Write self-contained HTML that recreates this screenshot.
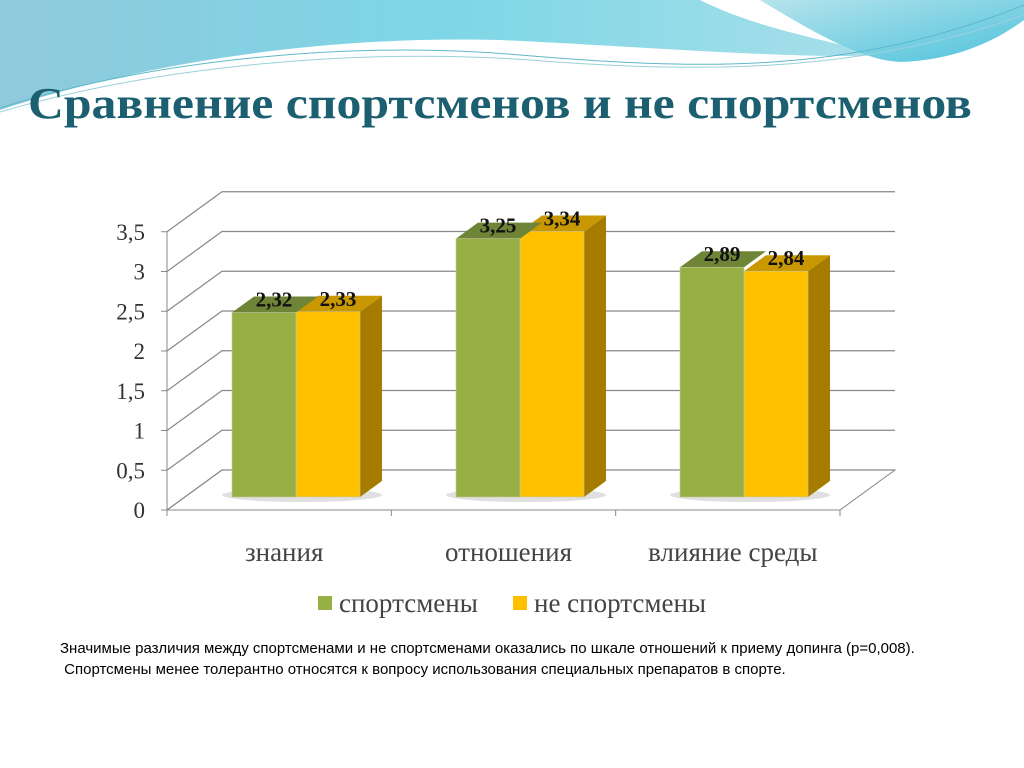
<!DOCTYPE html>
<html><head><meta charset="utf-8"><style>
html,body{margin:0;padding:0;background:#fff;}
#root{position:relative;width:1024px;height:768px;overflow:hidden;font-family:"Liberation Sans",sans-serif;}
</style></head><body>
<div id="root">
<svg width="1024" height="768" style="position:absolute;left:0;top:0">
<defs>
<linearGradient id="g1" x1="0" y1="0" x2="1" y2="0"><stop offset="0" stop-color="#8fc9dc"/><stop offset="0.5" stop-color="#7dd6e6"/><stop offset="1" stop-color="#a8dfea"/></linearGradient>
<linearGradient id="g2" x1="0" y1="0" x2="1" y2="1"><stop offset="0" stop-color="#b6e4ec"/><stop offset="1" stop-color="#4fc2dc"/></linearGradient>
</defs>
<path d="M0,0 L700,0 C760,30 830,40 880,55 C800,60 620,45 500,40 C300,35 120,70 0,110 Z" fill="url(#g1)"/>
<path d="M760,0 L1024,0 L1024,20 C990,45 950,60 900,62 C860,60 810,30 760,0 Z" fill="url(#g2)"/>
<path d="M0,108 C150,60 350,40 520,55 C700,70 850,75 1024,5" fill="none" stroke="#5fb8c8" stroke-width="1"/>
<path d="M0,112 C160,65 360,48 530,60 C720,75 870,70 1024,15" fill="none" stroke="#9ad0dc" stroke-width="1"/>
</svg>
<div style="position:absolute;left:28px;top:78px;font-family:'Liberation Serif',serif;font-weight:bold;font-size:44px;color:#1c5f70;white-space:nowrap;transform:scaleX(1.13);transform-origin:0 0;">Сравнение спортсменов и не спортсменов</div>
<svg id="chart" width="1024" height="768" style="position:absolute;left:0;top:0"></svg>
<div style="position:absolute;left:60px;top:639px;font-size:15px;color:#000;line-height:20.5px;width:920px;">Значимые различия между спортсменами и не спортсменами оказались по шкале отношений к приему допинга (р=0,008).<br>&nbsp;Спортсмены менее толерантно относятся к вопросу использования специальных препаратов в спорте.</div>
</div>
<script>
const categories=["знания","отношения","влияние среды"];
const athletes=[2.32,3.25,2.89];
const nonAthletes=[2.33,3.34,2.84];
const ticks=[0,0.5,1,1.5,2,2.5,3,3.5];
const tickLabels=["0","0,5","1","1,5","2","2,5","3","3,5"];
const seriesNames=["спортсмены","не спортсмены"];
const NS="http://www.w3.org/2000/svg";
const svg=document.getElementById('chart');
const k=79.5, y0=510, fx0=167, fx1=840, dx=55, dy=-40;
function yF(v){return y0-v*k;}
function yB(v){return 497-v*k;}
function catX(i){return 232+i*224;}
function mk(t,a){const e=document.createElementNS(NS,t);for(const p in a)e.setAttribute(p,a[p]);svg.appendChild(e);return e;}
let fl=mk('polygon',{points:`${fx0},${y0} ${fx1},${y0} ${fx1+dx},${y0+dy} ${fx0+dx},${y0+dy}`,fill:'none',stroke:'#888'});


ticks.forEach((t,i)=>{
  const g=mk('polyline',{points:`${fx0},${yF(t)} ${fx0+dx},${yF(t)+dy} ${fx1+dx},${yF(t)+dy}`,fill:'none',stroke:'#888','stroke-width':1.2});
  
  
  const tk=mk('line',{x1:fx0-6,y1:yF(t),x2:fx0,y2:yF(t),stroke:'#888'});
  
  
  const l=mk('text',{x:145,y:yF(t)+8,'text-anchor':'end','font-family':'Liberation Serif, serif','font-size':23,fill:'#333'});
  l.textContent=tickLabels[i];
  
  
});
const ax=mk('line',{x1:fx0,y1:yF(3.5),x2:fx0,y2:y0,stroke:'#888'});


const xa=mk('line',{x1:fx0,y1:y0,x2:fx1,y2:y0,stroke:'#888'});


[0,1,2,3].forEach(i=>{const x=fx0+i*(fx1-fx0)/3;const t=mk('line',{x1:x,y1:y0,x2:x,y2:y0+6,stroke:'#888'});

});
function bar(x,v,front,top,side,label,name,sideShow){
  const w=64,d=22,h=-16,yt=yB(v),yb=yB(0);
  if(sideShow){const s=mk('polygon',{points:`${x+w},${yt} ${x+w+d},${yt+h} ${x+w+d},${yb+h} ${x+w},${yb}`,fill:side});
  
  }
  const tp=mk('polygon',{points:`${x},${yt} ${x+d},${yt+h} ${x+w+d},${yt+h} ${x+w},${yt}`,fill:top});
  
  
  const r=mk('rect',{x:x,y:yt,width:w,height:yb-yt,fill:front,stroke:'#c8c8a0','stroke-width':0.6});
  
  
  const t=mk('text',{x:x+42,y:yt-6,'text-anchor':'middle','font-family':'Liberation Serif, serif','font-size':21,'font-weight':'bold',fill:'#111'});
  t.textContent=label;
  
  
}
categories.forEach((c,i)=>{
  const x=catX(i);
  const sh=mk('ellipse',{cx:x+70,cy:yB(0)-2,rx:80,ry:7,fill:'#000',opacity:0.12});
  
  
  bar(x+64,nonAthletes[i],'#ffc000','#c99800','#a67c00',nonAthletes[i].toFixed(2).replace('.',','),'bar-non-athletes-'+i,true);
  bar(x,athletes[i],'#97b045','#6e8437','#6e8437',athletes[i].toFixed(2).replace('.',','),'bar-athletes-'+i,false);
  const l=mk('text',{x:fx0+(i+0.5)*(fx1-fx0)/3+5,y:561,'text-anchor':'middle','font-family':'Liberation Serif, serif','font-size':27,fill:'#444'});
  l.textContent=c;
  
  
});
const lg=[[318,'#97b045'],[513,'#ffc000']];
seriesNames.forEach((n,i)=>{
  const r=mk('rect',{x:lg[i][0],y:596,width:14,height:14,fill:lg[i][1]});
  
  
  const t=mk('text',{x:lg[i][0]+21,y:612,'font-family':'Liberation Serif, serif','font-size':27,fill:'#444'});
  t.textContent=n;
  
  
});
</script>
</body></html>
